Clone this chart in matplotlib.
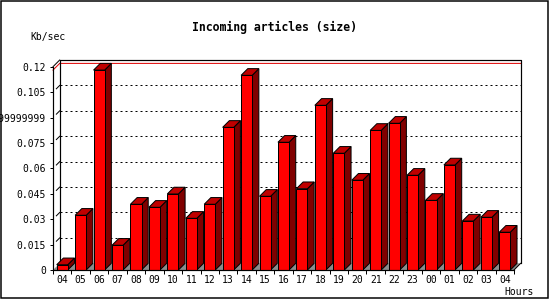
import matplotlib
matplotlib.use("Agg")
import matplotlib.pyplot as plt
from matplotlib.patches import Polygon, Rectangle

# ---- data ----
hours = ["04", "05", "06", "07", "08", "09", "10", "11", "12", "13", "14", "15",
         "16", "17", "18", "19", "20", "21", "22", "23", "00", "01", "02", "03", "04"]
values = [0.0031, 0.0323, 0.1180, 0.0146, 0.0388, 0.0370, 0.0449, 0.0305, 0.0388,
          0.0842, 0.1149, 0.0435, 0.0754, 0.0480, 0.0972, 0.0689, 0.0530, 0.0824,
          0.0866, 0.0559, 0.0411, 0.0620, 0.0289, 0.0311, 0.0223]
yticks = [0, 0.015, 0.03, 0.045, 0.06, 0.075, 0.09, 0.105, 0.12]
ytick_labels = ["0", "0.015", "0.03", "0.045", "0.06", "0.075", "0.0899999999999",
                "0.105", "0.12"]
title = "Incoming articles (size)"
ylabel = "Kb/sec"
xlabel = "Hours"

# ---- style ----
W, H = 550, 300
PX = 0.72  # one pixel in points at dpi 100
MONO = "DejaVu Sans Mono"
plt.rcParams["font.family"] = [MONO, "DejaVu Sans"]

FRONT = "#ff0000"
SIDE = "#800000"
TOP = "#c00000"
FLOOR = "#8c8c8c"

fig = plt.figure(figsize=(W / 100, H / 100), dpi=100)
fig.patch.set_facecolor("white")
ax = fig.add_axes([53 / W, 30 / H, 461 / W, 203.3 / H])
n = len(values)
ymax = yticks[-1]
ax.set_xlim(0, n)
ax.set_ylim(0, ymax)
ax.patch.set_visible(False)

# depth of the pseudo-3D effect, in data units
depth_px = 6.7
dx = depth_px / (ax.bbox.width / n)
dy = depth_px / (ax.bbox.height / ymax)

# floor
ax.add_patch(Polygon([(0, 0), (n, 0), (n + dx, dy), (dx, dy)], closed=True,
                     facecolor=FLOOR, edgecolor="none", zorder=1, clip_on=False))

# back-wall grid lines
for t in yticks[1:-1]:
    ax.plot([dx, n + dx], [t + dy, t + dy], color="black", lw=PX,
            ls=(0, (2, 3)), zorder=1.5, clip_on=False)
    ax.plot([0.5 * dx, dx], [t + 0.5 * dy, t + dy], color="black", lw=PX,
            zorder=1.5, clip_on=False)

# red max-value line
vmax = max(values)
ax.plot([0, dx, n + dx], [vmax, vmax + dy, vmax + dy], color="#e00000", lw=PX,
        zorder=1.6, clip_on=False)

# back wall border and diagonals
ax.plot([dx, dx, n + dx, n + dx], [dy, ymax + dy, ymax + dy, dy], color="black",
        lw=PX * 1.2, zorder=1.7, clip_on=False)
ax.plot([0, dx], [ymax, ymax + dy], color="black", lw=PX, zorder=1.7, clip_on=False)
ax.plot([n, n + dx], [0, dy], color="black", lw=PX, zorder=1.7, clip_on=False)

# bars
bw = 0.6
off = 0.2
for i, v in enumerate(values):
    x0 = i + off
    x1 = x0 + bw
    ax.add_patch(Polygon([(x1, 0), (x1 + dx, dy), (x1 + dx, v + dy), (x1, v)],
                         closed=True, facecolor=SIDE, edgecolor="black", lw=PX,
                         zorder=2, clip_on=False))
    ax.add_patch(Polygon([(x0, v), (x1, v), (x1 + dx, v + dy), (x0 + dx, v + dy)],
                         closed=True, facecolor=TOP, edgecolor="black", lw=PX,
                         zorder=2, clip_on=False))
ax.bar([i + off for i in range(n)], values, width=bw, align="edge", color=FRONT,
       edgecolor="black", linewidth=PX, zorder=2.1, clip_on=False)

# spines
for s in ["top", "right"]:
    ax.spines[s].set_visible(False)
for s in ["left", "bottom"]:
    ax.spines[s].set_linewidth(PX * 1.2)
    ax.spines[s].set_zorder(3)

# ticks
ax.set_yticks(yticks, ytick_labels)
ax.tick_params(axis="y", direction="out", length=3 * PX, width=PX, pad=4 * PX,
               labelsize=7)
ax.set_xticks(range(n + 1), [""] * (n + 1))
ax.set_xticks([i + 0.5 for i in range(n)], hours, minor=True)
ax.tick_params(axis="x", which="major", direction="out", length=3.5 * PX, width=PX)
ax.tick_params(axis="x", which="minor", length=0, pad=3.5, labelsize=7)

# texts
fig.text(274 / W, 1 - 27 / H, title, ha="center", va="center",
         fontsize=8.3, fontweight="bold", family=MONO)
fig.text(30 / W, 1 - 37 / H, ylabel, ha="left", va="center", fontsize=7, family=MONO)
fig.text(504 / W, 1 - 292 / H, xlabel, ha="left", va="center", fontsize=7, family=MONO)

# outer frame
fig.patches.append(Rectangle((1 / W, 2 / H), 546.5 / W, 297 / H,
                             transform=fig.transFigure, fill=False,
                             edgecolor="black", lw=1.5 * PX))

fig.savefig("out.png", dpi=100, facecolor="white")
